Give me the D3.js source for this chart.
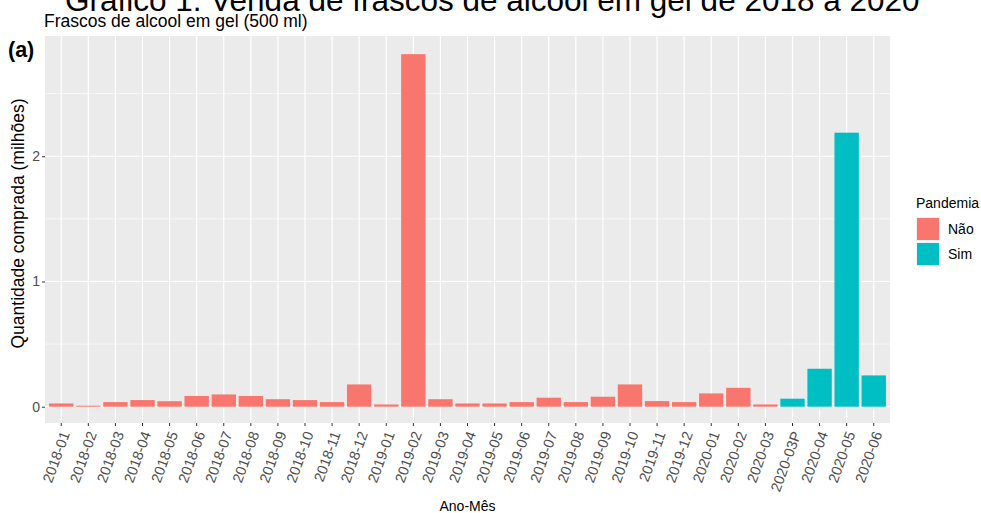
<!DOCTYPE html>
<html>
<head>
<meta charset="utf-8">
<script src="https://cdn.jsdelivr.net/npm/d3@7"></script>
<style>
  body { margin: 0; background: #fff; }
  text { font-family: "Liberation Sans", Arial, sans-serif; }
</style>
</head>
<body>
<div id="graf"></div>
<script>
// Dados
var meses = ["2018-01","2018-02","2018-03","2018-04","2018-05","2018-06","2018-07","2018-08","2018-09","2018-10","2018-11","2018-12",
  "2019-01","2019-02","2019-03","2019-04","2019-05","2019-06","2019-07","2019-08","2019-09","2019-10","2019-11","2019-12",
  "2020-01","2020-02","2020-03","2020-03P","2020-04","2020-05","2020-06"];
var quantidade = [0.026,0.008,0.037,0.053,0.044,0.086,0.098,0.086,0.06,0.053,0.037,0.178,
  0.018,2.815,0.06,0.026,0.026,0.037,0.072,0.037,0.08,0.178,0.045,0.037,
  0.106,0.151,0.018,0.064,0.303,2.188,0.25];
var pandemia = ["Não","Não","Não","Não","Não","Não","Não","Não","Não","Não","Não","Não",
  "Não","Não","Não","Não","Não","Não","Não","Não","Não","Não","Não","Não",
  "Não","Não","Não","Sim","Sim","Sim","Sim"];
var categorias = ["Não", "Sim"];
var yTicks = [0, 1, 2];
var yMinor = [0.5, 1.5, 2.5];

var dados = meses.map((m, i) => ({ mes: m, q: quantidade[i], p: pandemia[i] }));

var W = 981, H = 513;
var panel = { left: 45, right: 890, top: 36, bottom: 423 };

var svg = d3.select("#graf").append("svg").attr("width", W).attr("height", H);

// Escalas
var x = d3.scaleBand().domain(meses).range([panel.left, panel.right])
  .paddingInner(0.1).paddingOuter(0.15);
var y = d3.scaleLinear().domain([-0.13, 2.96]).range([panel.bottom, panel.top]);
var color = d3.scaleOrdinal().domain(categorias).range(["#F8766D", "#00BFC4"]);

// Fundo do painel
svg.append("rect")
  .attr("x", panel.left).attr("y", panel.top)
  .attr("width", panel.right - panel.left).attr("height", panel.bottom - panel.top)
  .attr("fill", "#EBEBEB");

// Grade
var g = svg.append("g");
g.selectAll(".minor").data(yMinor).join("line")
  .attr("x1", panel.left).attr("x2", panel.right)
  .attr("y1", d => y(d)).attr("y2", d => y(d))
  .attr("stroke", "#fff").attr("stroke-width", 0.6);
g.selectAll(".major").data(yTicks).join("line")
  .attr("x1", panel.left).attr("x2", panel.right)
  .attr("y1", d => y(d)).attr("y2", d => y(d))
  .attr("stroke", "#fff").attr("stroke-width", 1.2);
g.selectAll(".vgrid").data(meses).join("line")
  .attr("x1", d => x(d) + x.bandwidth() / 2).attr("x2", d => x(d) + x.bandwidth() / 2)
  .attr("y1", panel.top).attr("y2", panel.bottom)
  .attr("stroke", "#fff").attr("stroke-width", 1.2);

// Barras
svg.append("g").selectAll("rect").data(dados).join("rect")
  .attr("x", d => x(d.mes))
  .attr("width", x.bandwidth())
  .attr("y", d => y(d.q))
  .attr("height", d => y(0) - y(d.q))
  .attr("fill", d => color(d.p));

// Eixos
var yAxis = svg.append("g")
  .attr("transform", `translate(${panel.left},0)`)
  .call(d3.axisLeft(y).tickValues(yTicks).tickSize(3).tickPadding(2).tickFormat(d3.format("d")));
yAxis.select(".domain").remove();
yAxis.selectAll("line").attr("stroke", "#333");
yAxis.selectAll("text").attr("fill", "#4d4d4d").style("font-size", "14px");

var xAxis = svg.append("g")
  .attr("transform", `translate(0,${panel.bottom})`)
  .call(d3.axisBottom(x).tickSize(3).tickSizeOuter(0));
xAxis.select(".domain").remove();
xAxis.selectAll("line").attr("stroke", "#333");
xAxis.selectAll("text")
  .attr("fill", "#4d4d4d").style("font-size", "14.5px")
  .attr("text-anchor", "end")
  .attr("dy", "0.35em")
  .attr("transform", "translate(4,9) rotate(-70)")
  .attr("x", 0).attr("y", 0);

// Títulos
svg.append("text").attr("x", 65).attr("y", 11)
  .style("font-size", "31.5px").attr("fill", "#000")
  .text("Gráfico 1. Venda de frascos de álcool em gel de 2018 a 2020");
svg.append("text").attr("x", 44).attr("y", 27)
  .style("font-size", "17.5px").attr("fill", "#000")
  .text("Frascos de alcool em gel (500 ml)");
svg.append("text").attr("x", 8).attr("y", 57)
  .style("font-size", "21.5px").style("font-weight", "bold").attr("fill", "#000")
  .text("(a)");
svg.append("text")
  .attr("transform", `translate(24,${(panel.top + panel.bottom) / 2 - 6}) rotate(-90)`)
  .attr("text-anchor", "middle")
  .style("font-size", "17.5px").attr("fill", "#000")
  .text("Quantidade comprada (milhões)");
svg.append("text").attr("x", (panel.left + panel.right) / 2).attr("y", 511)
  .attr("text-anchor", "middle")
  .style("font-size", "14px").attr("fill", "#000")
  .text("Ano-Mês");

// Legenda
var leg = svg.append("g").attr("transform", "translate(916,0)");
leg.append("text").attr("x", 0).attr("y", 208)
  .style("font-size", "14px").attr("fill", "#000").text("Pandemia");
var item = leg.selectAll(".item").data(categorias).join("g")
  .attr("transform", (d, i) => `translate(0,${217 + i * 25})`);
item.append("rect").attr("width", 24).attr("height", 24).attr("fill", "#F2F2F2");
item.append("rect").attr("x", 1).attr("y", 1).attr("width", 22).attr("height", 22)
  .attr("fill", d => color(d));
item.append("text").attr("x", 32).attr("y", 17)
  .style("font-size", "14px").attr("fill", "#000").text(d => d);
</script>
</body>
</html>
